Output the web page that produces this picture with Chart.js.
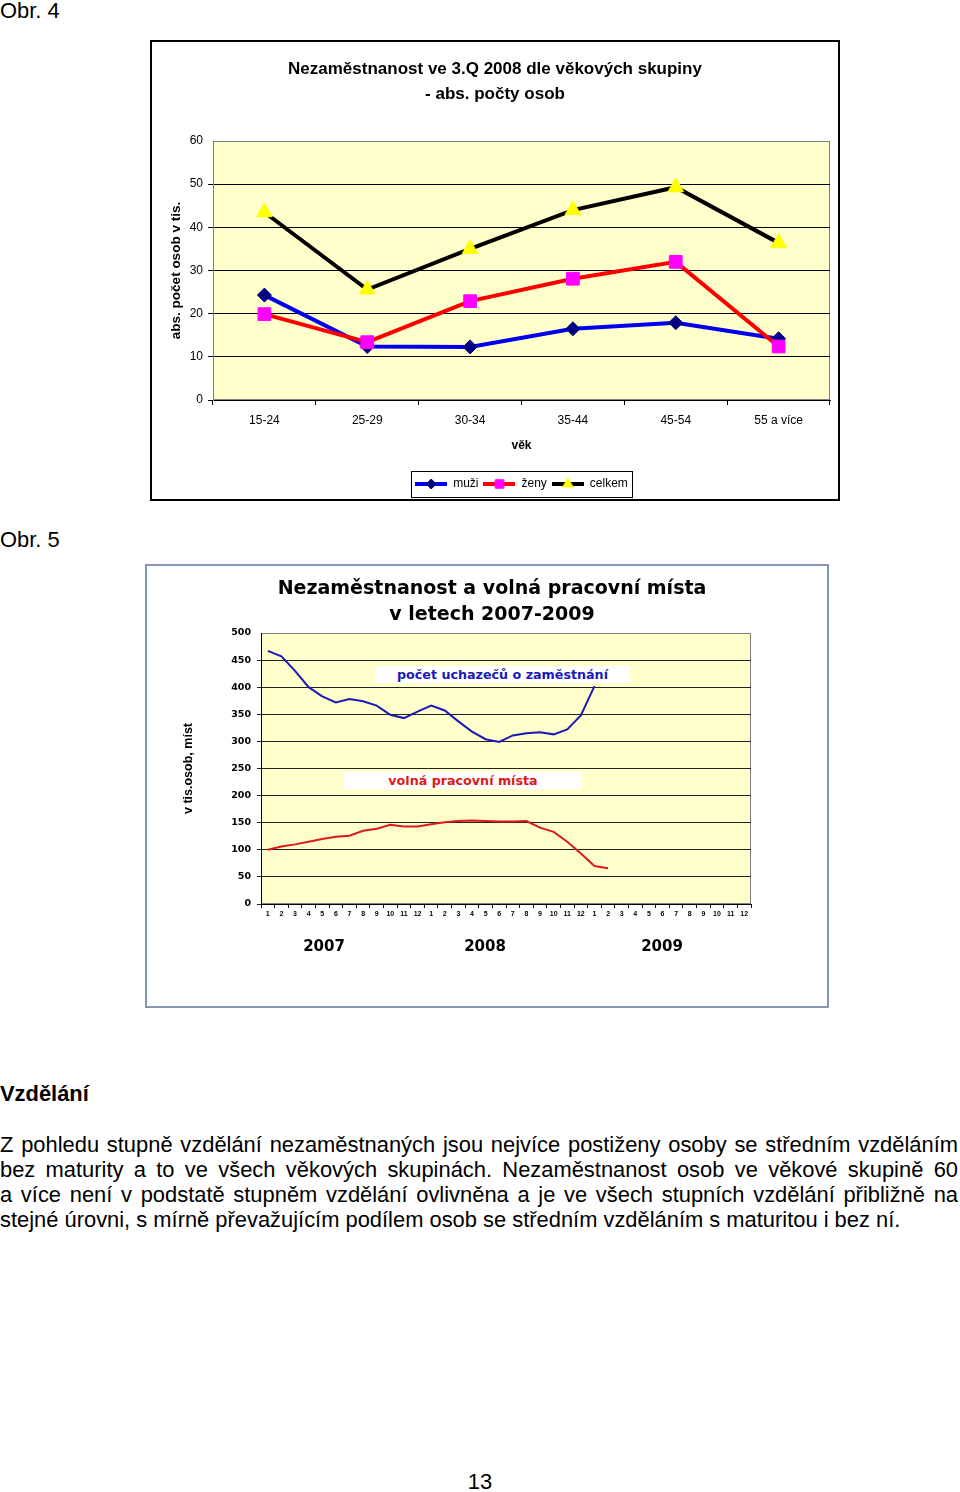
<!DOCTYPE html>
<html lang="cs">
<head>
<meta charset="utf-8">
<title>Obr. 4, Obr. 5</title>
<script src="https://cdn.jsdelivr.net/npm/chart.js@4.4.1/dist/chart.umd.min.js"></script>
<style>
    body { margin: 0; width: 960px; height: 1492px; position: relative; overflow: hidden; background: #fff; color: #000; font-family: 'Liberation Sans', Arial, sans-serif; }
    .abs { position: absolute; }
    .txt { position: absolute; font-size: 21.9px; line-height: 24px; white-space: nowrap; }
    .radek { position: absolute; left: 0; width: 958px; font-size: 21.9px; line-height: 25px; white-space: nowrap; text-align: justify; text-align-last: justify; }
    .radek.posledni { text-align-last: left; }
    .stitek { position: absolute; background: #fff; font-family: 'DejaVu Sans', sans-serif; font-weight: bold; font-size: 12.7px; line-height: 17px; text-align: center; }
    .rok { position: absolute; font-family: 'DejaVu Sans', sans-serif; font-weight: bold; font-size: 15px; line-height: 18px; width: 60px; text-align: center; }
</style>
</head>
<body>

<div class="txt" style="left:0;top:-1px">Obr. 4</div>

<div class="abs" style="left:150px;top:40px;width:690px;height:461px;border:2px solid #000;box-sizing:border-box"></div>
<canvas id="grafVek" class="abs" width="690" height="461" style="left:150px;top:40px"></canvas>

<div class="txt" style="left:0;top:528px">Obr. 5</div>

<div class="abs" style="left:145px;top:564px;width:684px;height:444px;border:2px solid #8797B0;box-sizing:border-box"></div>
<canvas id="grafTrh" class="abs" width="684" height="444" style="left:145px;top:564px"></canvas>

<div class="stitek" style="left:375px;top:666px;width:255px;color:#1A1AB8">počet uchazečů o zaměstnání</div>
<div class="stitek" style="left:344px;top:772px;width:238px;color:#DD1A1A">volná pracovní místa</div>

<div id="roky"></div>

<div class="txt" style="left:0;top:1082px;font-weight:bold">Vzdělání</div>

<div class="radek" style="top:1132px">Z pohledu stupně vzdělání nezaměstnaných jsou nejvíce postiženy osoby se středním vzděláním</div>
<div class="radek" style="top:1157px">bez maturity a to ve všech věkových skupinách. Nezaměstnanost osob ve věkové skupině 60</div>
<div class="radek" style="top:1182px">a více není v podstatě stupněm vzdělání ovlivněna a je ve všech stupních vzdělání přibližně na</div>
<div class="radek posledni" style="top:1207px">stejné úrovni, s mírně převažujícím podílem osob se středním vzděláním s maturitou i bez ní.</div>

<div class="txt" style="left:440px;top:1470px;width:80px;text-align:center">13</div>

<script>
// Obr. 4 - nezaměstnanost dle věkových skupin (tis. osob)
const vekoveSkupiny = ['15-24', '25-29', '30-34', '35-44', '45-54', '55 a více'];
const muzi = [24.3, 12.4, 12.3, 16.5, 17.9, 14.2];
const zeny = [19.9, 13.4, 22.9, 28.1, 32.0, 12.4];
const celkem = [43.5, 25.6, 35.0, 44.0, 49.3, 36.4];
const osaVekTicks = [0, 10, 20, 30, 40, 50, 60];

// Obr. 5 - uchazeči a volná místa po měsících 2007-2009 (tis.)
const mesice = ['1', '2', '3', '4', '5', '6', '7', '8', '9', '10', '11', '12',
                '1', '2', '3', '4', '5', '6', '7', '8', '9', '10', '11', '12',
                '1', '2', '3', '4', '5', '6', '7', '8', '9', '10', '11', '12'];
const roky = ['2007', '2008', '2009'];
const uchazeci = [467, 457, 430, 400, 383, 372, 378, 374, 366, 349, 343, 355,
                  366, 357, 337, 318, 304, 299, 311, 315, 317, 313, 322, 348,
                  402];
const mista = [100, 106, 110, 115, 120, 124, 126, 135, 139, 146, 143, 143,
               147, 151, 153, 154, 153, 152, 152, 153, 141, 133, 115, 93,
               70, 66];
const osaTrhTicks = [0, 50, 100, 150, 200, 250, 300, 350, 400, 450, 500];

Chart.defaults.font.family = "'Liberation Sans', Arial, sans-serif";
Chart.defaults.color = '#000';

// popisky roků pod grafem
const rokyX = [294, 455, 632];
roky.forEach((r, i) => {
    const d = document.createElement('div');
    d.className = 'rok';
    d.style.left = rokyX[i] + 'px';
    d.style.top = '937px';
    d.textContent = r;
    document.getElementById('roky').appendChild(d);
});

// pozadí plochy grafu + šedý rámeček
const plocha = {
    id: 'plocha',
    beforeDraw(chart, args, opts) {
        const a = chart.chartArea;
        const ctx = chart.ctx;
        ctx.save();
        ctx.fillStyle = opts.barva;
        ctx.fillRect(a.left, a.top, a.right - a.left, a.bottom - a.top);
        ctx.strokeStyle = '#808080';
        ctx.lineWidth = 1;
        ctx.strokeRect(a.left + 0.5, a.top + 0.5, a.right - a.left - 1, a.bottom - a.top - 1);
        ctx.restore();
    }
};

// posun titulku / legendy a rámeček kolem legendy
const posun = {
    id: 'posun',
    afterLayout(chart, args, opts) {
        if (opts.titulekX != null) {
            const t = chart.titleBlock;
            const d = opts.titulekX - (t.left + t.right) / 2;
            t.left += d; t.right += d;
        }
        if (opts.legendaNaPlochu && chart.legend) {
            const a = chart.chartArea, l = chart.legend;
            const d = (a.left + a.right) / 2 - (l.left + l.right) / 2;
            l.left += d; l.right += d;
        }
    },
    afterDraw(chart, args, opts) {
        if (!opts.legendaNaPlochu) return;
        const boxes = chart.legend.legendHitBoxes;
        if (!boxes || !boxes.length) return;
        const x0 = Math.min(...boxes.map(b => b.left)) - 4;
        const x1 = Math.max(...boxes.map(b => b.left + b.width)) + 4;
        const yc = boxes[0].top + boxes[0].height / 2;
        const ctx = chart.ctx;
        ctx.save();
        ctx.strokeStyle = '#000';
        ctx.lineWidth = 1;
        ctx.strokeRect(Math.round(x0) + 0.5, Math.round(yc - 13) + 0.5, Math.round(x1 - x0), 26);
        ctx.restore();
    }
};

function vzorek(barvaCary, barvaBodu, tvar, polomer) {
    const c = document.createElement('canvas');
    c.width = 32; c.height = 14;
    const ctx = c.getContext('2d');
    ctx.strokeStyle = barvaCary;
    ctx.lineWidth = 4;
    ctx.beginPath(); ctx.moveTo(0, 7); ctx.lineTo(32, 7); ctx.stroke();
    ctx.fillStyle = barvaBodu;
    ctx.strokeStyle = barvaBodu;
    ctx.lineWidth = 1;
    Chart.helpers.drawPoint(ctx, { pointStyle: tvar, radius: polomer, rotation: 0, borderWidth: 1 }, 16, 7);
    return c;
}

const serieVek = [
    { label: 'muži', data: muzi, cara: '#0000EE', bod: '#000080', tvar: 'rectRot', r: 7, lr: 5, poradi: 1 },
    { label: 'ženy', data: zeny, cara: '#FF0000', bod: '#FF00FF', tvar: 'rect', r: 9, lr: 6, poradi: 0 },
    { label: 'celkem', data: celkem, cara: '#000000', bod: '#FFFF00', tvar: 'triangle', r: 9, lr: 6, poradi: 2 }
];

new Chart(document.getElementById('grafVek'), {
    type: 'line',
    data: {
        labels: vekoveSkupiny,
        datasets: serieVek.map(s => ({
            label: s.label,
            data: s.data,
            order: s.poradi,
            borderColor: s.cara,
            borderWidth: 4,
            tension: 0,
            pointStyle: s.tvar,
            pointRadius: s.r,
            pointBackgroundColor: s.bod,
            pointBorderColor: s.bod,
            pointBorderWidth: 1
        }))
    },
    options: {
        responsive: false,
        animation: false,
        devicePixelRatio: 1,
        layout: { padding: { left: 0, right: 10, top: 0, bottom: 1 } },
        plugins: {
            tooltip: { enabled: false },
            plocha: { barva: '#FFFFCC' },
            posun: { titulekX: 345, legendaNaPlochu: true },
            title: {
                display: true,
                text: ['Nezaměstnanost ve 3.Q 2008 dle věkových skupiny', '- abs. počty osob'],
                color: '#000',
                font: { size: 17, weight: 'bold', lineHeight: 25 / 17 },
                padding: { top: 16.5, bottom: 34.5 }
            },
            legend: {
                position: 'bottom',
                labels: {
                    color: '#000',
                    font: { size: 12 },
                    padding: 5,
                    usePointStyle: true,
                    pointStyleWidth: 32,
                    boxHeight: 12,
                    generateLabels: () => serieVek.map((s, i) => ({
                        text: s.label,
                        pointStyle: vzorek(s.cara, s.bod, s.tvar, s.lr),
                        fillStyle: s.bod,
                        strokeStyle: s.cara,
                        lineWidth: 0,
                        hidden: false,
                        datasetIndex: i
                    }))
                }
            }
        },
        scales: {
            x: {
                type: 'category',
                offset: true,
                grid: { offset: true, drawOnChartArea: false, tickLength: 5, color: '#000' },
                border: { color: '#000' },
                ticks: { font: { size: 12 }, padding: 8, color: '#000', maxRotation: 0 },
                title: { display: true, text: 'věk', font: { size: 12, weight: 'bold' }, padding: { top: 0, bottom: 20 } },
                afterFit: s => { s.height = 73; }
            },
            y: {
                min: 0,
                max: 60,
                afterBuildTicks: s => { s.ticks = osaVekTicks.map(v => ({ value: v })); },
                grid: { color: c => c.tick && c.tick.value === 60 ? 'rgba(0,0,0,0)' : '#000', tickLength: 5 },
                border: { color: '#808080' },
                ticks: { font: { size: 12 }, padding: 5, color: '#000' },
                title: { display: true, text: 'abs. počet osob v tis.', font: { size: 13.5, weight: 'bold' }, padding: { top: 18, bottom: 0 } },
                afterFit: s => { s.width = 63; }
            }
        }
    },
    plugins: [plocha, posun]
});

new Chart(document.getElementById('grafTrh'), {
    type: 'line',
    data: {
        labels: mesice,
        datasets: [
            { label: 'počet uchazečů o zaměstnání', data: uchazeci, borderColor: '#1A1AB8', borderWidth: 2, pointRadius: 0, tension: 0 },
            { label: 'volná pracovní místa', data: mista, borderColor: '#DD1A1A', borderWidth: 2, pointRadius: 0, tension: 0 }
        ]
    },
    options: {
        responsive: false,
        animation: false,
        devicePixelRatio: 1,
        layout: { padding: { left: 0, right: 78, top: 0, bottom: 0 } },
        plugins: {
            tooltip: { enabled: false },
            legend: { display: false },
            plocha: { barva: '#FFFFCC' },
            posun: { titulekX: 347, legendaNaPlochu: false },
            title: {
                display: true,
                text: ['Nezaměstnanost a volná pracovní místa', 'v letech 2007-2009'],
                color: '#000',
                font: { family: "'DejaVu Sans', sans-serif", size: 19, weight: 'bold', lineHeight: 26 / 19 },
                padding: { top: 12, bottom: 5 }
            }
        },
        scales: {
            x: {
                type: 'category',
                offset: true,
                grid: { offset: true, drawOnChartArea: false, tickLength: 4, color: '#000' },
                border: { color: '#000' },
                ticks: { font: { size: 7, weight: 'bold' }, padding: 2, color: '#000', maxRotation: 0, autoSkip: false },
                afterFit: s => { s.height = 104; }
            },
            y: {
                min: 0,
                max: 500,
                afterBuildTicks: s => { s.ticks = osaTrhTicks.map(v => ({ value: v })); },
                grid: { color: c => c.tick && c.tick.value === 500 ? 'rgba(0,0,0,0)' : '#222', tickLength: 4 },
                border: { color: '#000' },
                ticks: { font: { family: "'DejaVu Sans', sans-serif", size: 9.5, weight: 'bold' }, padding: 6, color: '#000' },
                title: { display: true, text: 'v tis.osob, míst', font: { size: 12.5, weight: 'bold' }, padding: { top: 36, bottom: 0 } },
                afterFit: s => { s.width = 116; }
            }
        }
    },
    plugins: [plocha, posun]
});
</script>
</body>
</html>
